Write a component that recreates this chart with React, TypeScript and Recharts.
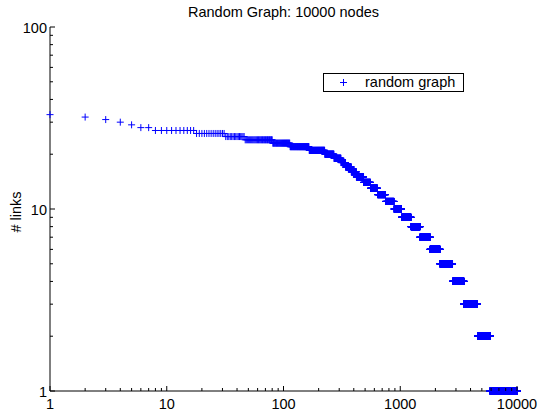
import { ScatterChart, Scatter, XAxis, YAxis } from "recharts";

// Rank/degree plot of the random graph, read off the picture as runs:
// nodes sorted by # links, run i = ranks firstRank[i]..lastRank[i] all having degrees[i] links.
const degrees = [33, 32, 31, 30, 29, 28, 27, 26, 25, 24, 23, 22, 21, 20, 19, 18, 17, 16, 15, 14, 13, 12, 11, 10, 9, 8, 7, 6, 5, 4, 3, 2, 1];
const firstRank = [1, 2, 3, 4, 5, 6, 8, 18, 32, 47, 81, 114, 166, 226, 271, 311, 341, 381, 421, 486, 557, 639, 749, 885, 1026, 1237, 1477, 1801, 2191, 2806, 3516, 4591, 5901];
const lastRank = [1, 2, 3, 4, 5, 7, 17, 31, 46, 80, 113, 165, 225, 270, 310, 340, 380, 420, 485, 556, 638, 748, 884, 1025, 1236, 1476, 1800, 2190, 2805, 3515, 4590, 5900, 10000];

const xDecades = [1, 10, 100, 1000, 10000];
const yDecades = [1, 10, 100];
const minorSteps = [2, 3, 4, 5, 6, 7, 8, 9];

const title = "Random Graph: 10000 nodes";
const yLabel = "# links";
const seriesName = "random graph";

const BLUE = "#0000ff";
const FONT = '"Liberation Sans", Arial, Helvetica, sans-serif';
const W = 538;
const H = 413;

// one point per node (rank), expanded from the runs above
const points: { rank: number; links: number }[] = [];
degrees.forEach((d, i) => {
  for (let r = firstRank[i]; r <= lastRank[i]; r++) points.push({ rank: r, links: d });
});

// log axis ticks: decades plus the 2..9 minor ticks in between
const withMinors = (decades: number[]) =>
  decades.flatMap((d, i) => (i === decades.length - 1 ? [d] : [d, ...minorSteps.map((m) => m * d)]));
const xTicks = withMinors(xDecades);
const yTicks = withMinors(yDecades);

function Plus({ cx, cy }: any) {
  return (
    <path
      d={`M${cx - 3.5},${cy}H${cx + 3.5}M${cx},${cy - 3.5}V${cy + 3.5}`}
      stroke={BLUE}
      strokeWidth={1}
      fill="none"
    />
  );
}

// ticks point inwards on all four sides, labels only on the decades (bottom/left)
const makeTick = (side: "bottom" | "top" | "left" | "right", decades: number[]) => (props: any) => {
  const { x, y, payload } = props;
  const v = payload.value;
  const major = decades.includes(v);
  const len = major ? 5 : 3;
  if (side === "bottom" || side === "top") {
    const dir = side === "bottom" ? -1 : 1;
    return (
      <g>
        <line x1={x} x2={x} y1={y} y2={y + dir * len} stroke="#000" strokeWidth={1} />
        {side === "bottom" && major && (
          <text x={x} y={y + 17.5} textAnchor="middle" fontSize={14.5} fontFamily={FONT} fill="#000">
            {v}
          </text>
        )}
      </g>
    );
  }
  const dir = side === "left" ? 1 : -1;
  return (
    <g>
      <line x1={x} x2={x + dir * len} y1={y} y2={y} stroke="#000" strokeWidth={1} />
      {side === "left" && major && (
        <text x={x - 3} y={y + 5.5} textAnchor="end" fontSize={14.5} fontFamily={FONT} fill="#000">
          {v}
        </text>
      )}
    </g>
  );
};

export default function App() {
  return (
    // placeholder keeps #root sized; the figure itself is pinned to the window's top-left corner
    <div style={{ width: W - 16, height: H - 16 }}>
      <div
        style={{
          position: "fixed",
          left: 0,
          top: 0,
          width: W,
          height: H,
          background: "#fff",
          fontFamily: FONT,
        }}
      >
        <ScatterChart width={W} height={H} margin={{ top: 27, right: 21, bottom: 0, left: 0 }}>
          <XAxis
            dataKey="rank"
            type="number"
            scale="log"
            domain={[1, 10000]}
            ticks={xTicks}
            interval={0}
            height={22}
            tickSize={0}
            tickMargin={0}
            tickLine={false}
            axisLine={{ stroke: "#000" }}
            tick={makeTick("bottom", xDecades)}
          />
          <XAxis
            xAxisId="top"
            orientation="top"
            type="number"
            scale="log"
            domain={[1, 10000]}
            allowDataOverflow
            ticks={xTicks}
            interval={0}
            height={0}
            tickSize={0}
            tickMargin={0}
            tickLine={false}
            axisLine={{ stroke: "#000" }}
            tick={makeTick("top", xDecades)}
          />
          <YAxis
            dataKey="links"
            type="number"
            scale="log"
            domain={[1, 100]}
            ticks={yTicks}
            interval={0}
            width={50}
            tickSize={0}
            tickMargin={0}
            tickLine={false}
            axisLine={{ stroke: "#000" }}
            tick={makeTick("left", yDecades)}
          />
          <YAxis
            yAxisId="right"
            orientation="right"
            type="number"
            scale="log"
            domain={[1, 100]}
            allowDataOverflow
            ticks={yTicks}
            interval={0}
            width={0}
            tickSize={0}
            tickMargin={0}
            tickLine={false}
            axisLine={{ stroke: "#000" }}
            tick={makeTick("right", yDecades)}
          />
          <Scatter
            name={seriesName}
            data={points}
            shape={(p: any) => <Plus cx={p.cx} cy={p.cy} />}
            isAnimationActive={false}
          />
        </ScatterChart>

        {/* title */}
        <div
          style={{
            position: "absolute",
            left: 50,
            width: 467,
            top: 5,
            textAlign: "center",
            fontSize: 14.5,
            lineHeight: "15px",
            color: "#000",
            whiteSpace: "nowrap",
          }}
        >
          {title}
        </div>

        {/* y axis label */}
        <svg width={40} height={H} style={{ position: "absolute", left: 0, top: 0, pointerEvents: "none" }}>
          <text transform="translate(20.5,212) rotate(-90)" textAnchor="middle" fontSize={14.5} fontFamily={FONT} fill="#000">
            {yLabel}
          </text>
        </svg>

        {/* legend */}
        <div
          style={{
            position: "absolute",
            left: 323,
            top: 73,
            width: 141,
            height: 19,
            boxSizing: "border-box",
            border: "1px solid #000",
            background: "#fff",
          }}
        >
          <svg width={9} height={9} style={{ position: "absolute", left: 15, top: 4 }}>
            <Plus cx={4.5} cy={4.5} />
          </svg>
          <span
            style={{
              position: "absolute",
              left: 41,
              top: 0,
              fontSize: 14.5,
              lineHeight: "17px",
              color: "#000",
              whiteSpace: "nowrap",
            }}
          >
            {seriesName}
          </span>
        </div>
      </div>
    </div>
  );
}
